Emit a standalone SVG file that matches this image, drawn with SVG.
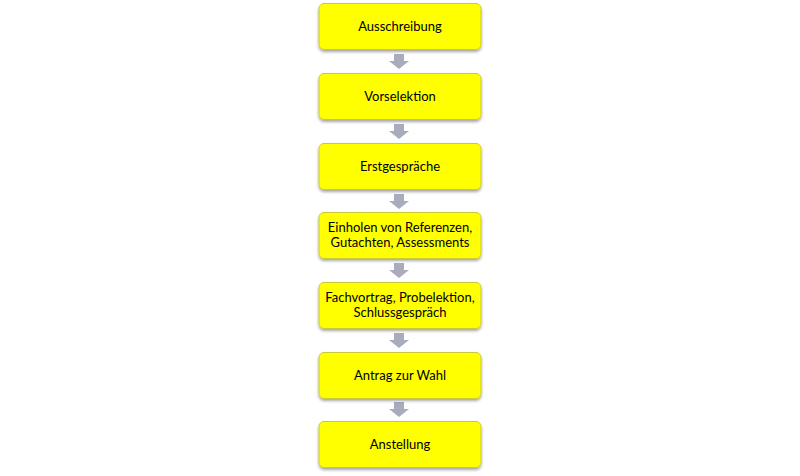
<svg xmlns="http://www.w3.org/2000/svg" width="800" height="476" viewBox="0 0 800 476">
<defs>
<filter id="sh" x="-10%" y="-20%" width="120%" height="150%">
<feGaussianBlur in="SourceAlpha" stdDeviation="1.5"/>
<feOffset dx="0" dy="1.5" result="b"/>
<feComponentTransfer><feFuncA type="linear" slope="0.35"/></feComponentTransfer>
<feMerge><feMergeNode/><feMergeNode in="SourceGraphic"/></feMerge>
</filter>
<path id="arr" d="M-5,0 H5 V7 H10 L0,15 L-10,7 H-5 Z"/>
</defs>
<style>
.box{fill:#ffff00;stroke:#c9c93a;stroke-width:1;filter:url(#sh)}
.t{font-family:Lato,"Open Sans","Liberation Sans",sans-serif;font-size:13px;fill:#000;text-anchor:middle}
.a{fill:#a8acbd}
</style>
<rect width="800" height="476" fill="#fff"/>
<g id="connectors">
<use href="#arr" class="a" x="399" y="54"/>
<use href="#arr" class="a" x="399" y="124"/>
<use href="#arr" class="a" x="399" y="194"/>
<use href="#arr" class="a" x="399" y="263"/>
<use href="#arr" class="a" x="399" y="333"/>
<use href="#arr" class="a" x="399" y="402"/>
</g>
<g id="n1"><rect class="box" x="319" y="3.5" width="162" height="46" rx="5"/><text class="t" x="400" y="31">Ausschreibung</text></g>
<g id="n2"><rect class="box" x="319" y="73.5" width="162" height="46" rx="5"/><text class="t" x="400" y="101">Vorselektion</text></g>
<g id="n3"><rect class="box" x="319" y="143.5" width="162" height="46" rx="5"/><text class="t" x="400" y="171">Erstgespräche</text></g>
<g id="n4"><rect class="box" x="319" y="212.5" width="162" height="46" rx="5"/><text class="t" x="400" y="232">Einholen von Referenzen,</text><text class="t" x="400" y="247">Gutachten, Assessments</text></g>
<g id="n5"><rect class="box" x="319" y="282.5" width="162" height="46" rx="5"/><text class="t" x="400" y="302">Fachvortrag, Probelektion,</text><text class="t" x="400" y="317">Schlussgespräch</text></g>
<g id="n6"><rect class="box" x="319" y="352.5" width="162" height="46" rx="5"/><text class="t" x="400" y="380">Antrag zur Wahl</text></g>
<g id="n7"><rect class="box" x="319" y="421.5" width="162" height="46" rx="5"/><text class="t" x="400" y="449">Anstellung</text></g>
</svg>
